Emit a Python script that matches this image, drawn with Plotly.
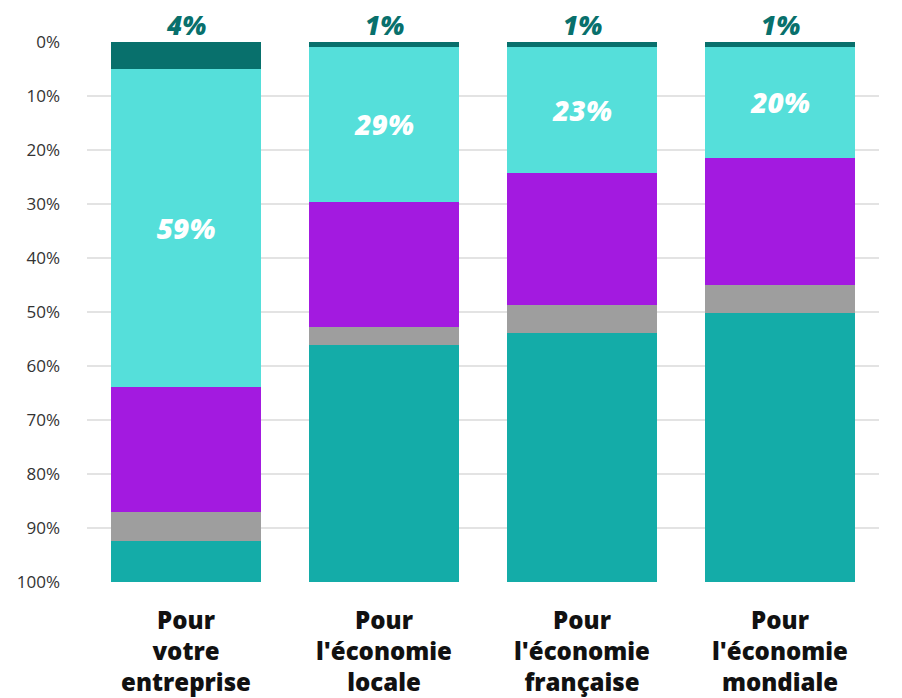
import plotly.graph_objects as go

categories = ["Pour<br>votre<br>entreprise", "Pour<br>l'économie<br>locale",
              "Pour<br>l'économie<br>française", "Pour<br>l'économie<br>mondiale"]
s_dark = [5.0, 0.9, 0.9, 0.9]
s_cyan = [58.9, 28.7, 23.4, 20.6]
s_purple = [23.1, 23.2, 24.4, 23.5]
s_gray = [5.4, 3.3, 5.2, 5.2]
s_teal = [7.6, 43.9, 46.1, 49.8]
top_labels = ["4%", "1%", "1%", "1%"]
cyan_labels = ["59%", "29%", "23%", "20%"]
y_ticks = [0, 10, 20, 30, 40, 50, 60, 70, 80, 90, 100]

FONT = "Open Sans"
fig = go.Figure()
series = [
    (s_dark, "#08706c", None),
    (s_cyan, "#55dfda", cyan_labels),
    (s_purple, "#a31ae0", None),
    (s_gray, "#9e9e9e", None),
    (s_teal, "#14aca8", None),
]
for vals, col, txt in series:
    fig.add_trace(go.Bar(
        x=categories, y=vals, marker=dict(color=col, line=dict(width=0)),
        text=txt, textposition="inside" if txt else "none",
        insidetextanchor="middle",
        textfont=dict(family=FONT, size=28, color="white", weight=800, style="italic"),
        hoverinfo="skip", showlegend=False,
    ))

for c, t in zip(categories, top_labels):
    fig.add_annotation(x=c, y=0, text=t, showarrow=False, yanchor="bottom", yshift=-3,
                       font=dict(family=FONT, size=26, color="#08706c", weight=800, style="italic"))

fig.update_layout(
    barmode="stack", bargap=0.242,
    width=902, height=698,
    margin=dict(l=79, r=31, t=34, b=124),
    plot_bgcolor="white", paper_bgcolor="white",
    uniformtext=dict(mode=False),
)
fig.update_yaxes(range=[100, 0], tickvals=y_ticks, ticktext=[f"{v}%" for v in y_ticks],
                 showgrid=True, gridcolor="#e3e3e3", gridwidth=1.5, zeroline=False,
                 tickfont=dict(family=FONT, size=17, color="#333333"), ticks="",
                 ticklabelstandoff=26, automargin=False)
fig.update_xaxes(tickfont=dict(family=FONT, size=24, color="#111111", weight=800),
                 ticks="", showline=False, automargin=False, ticklabelstandoff=22)
fig.write_html("out.html")
